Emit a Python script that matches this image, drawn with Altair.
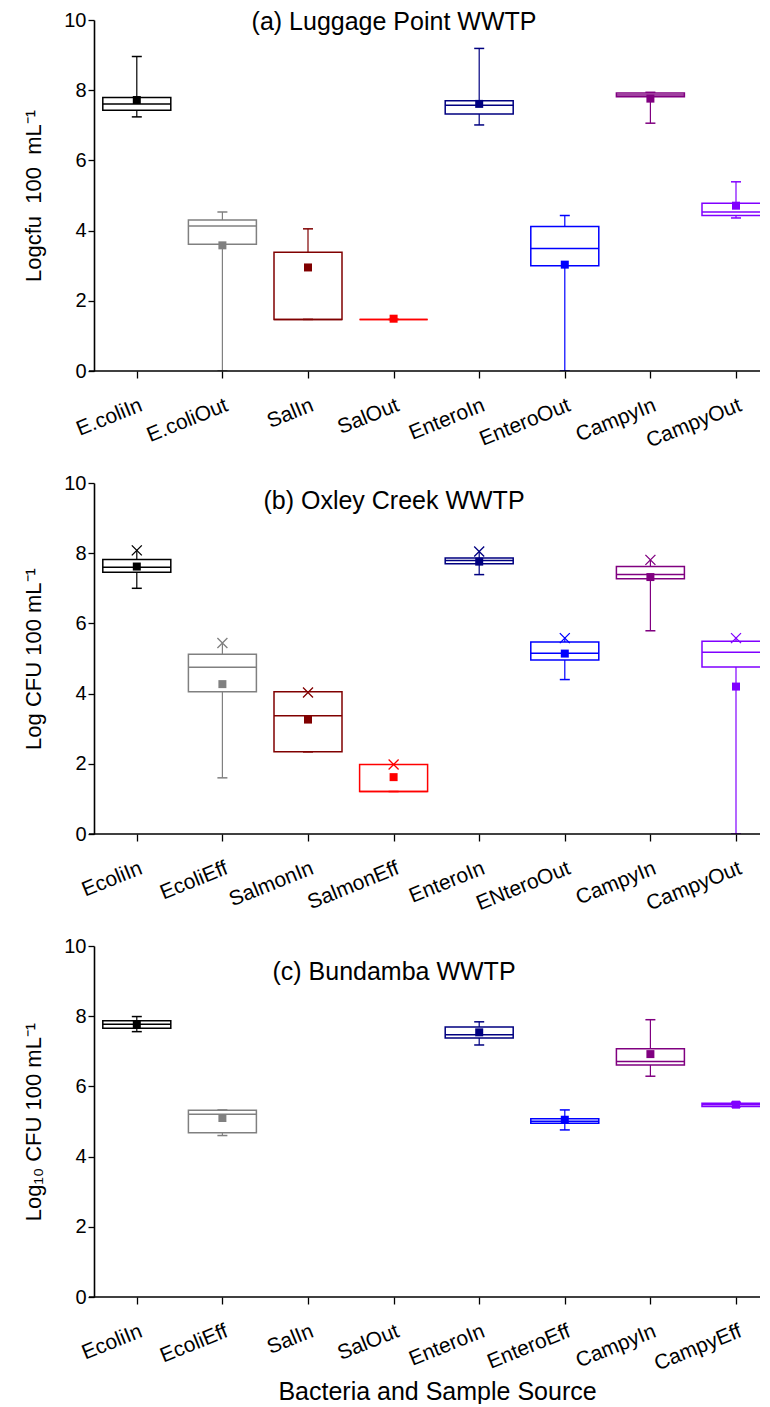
import json
import altair as alt
import pandas as pd

FONT = "Liberation Sans"

colors = ["#000000", "#808080", "#800000", "#FF0000", "#000080", "#0000FF", "#800080", "#8000FF"]

# Panel (a) Luggage Point WWTP
cats_a = ["E.coliIn", "E.coliOut", "SalIn", "SalOut", "EnteroIn", "EnteroOut", "CampyIn", "CampyOut"]
lo_a = [7.24, 0.0, 1.47, 1.47, 7.01, 0.0, 7.06, 4.36]
q1_a = [7.43, 3.61, 1.47, 1.47, 7.32, 3.00, 7.81, 4.43]
med_a = [7.61, 4.13, 1.47, 1.47, 7.57, 3.49, 7.86, 4.53]
q3_a = [7.79, 4.30, 3.38, 1.47, 7.70, 4.12, 7.92, 4.78]
hi_a = [8.96, 4.53, 4.05, 1.47, 9.19, 4.43, 7.94, 5.39]
mean_a = [7.72, 3.58, 2.95, 1.49, 7.61, 3.03, 7.76, 4.71]

# Panel (b) Oxley Creek WWTP
cats_b = ["EcoliIn", "EcoliEff", "SalmonIn", "SalmonEff", "EnteroIn", "ENteroOut", "CampyIn", "CampyOut"]
lo_b = [7.00, 1.60, 2.34, 1.21, 7.39, 4.40, 5.79, 0.0]
q1_b = [7.46, 4.05, 2.34, 1.21, 7.70, 4.96, 7.27, 4.76]
med_b = [7.60, 4.75, 3.37, 1.21, 7.79, 5.15, 7.39, 5.18]
q3_b = [7.82, 5.12, 4.05, 1.98, 7.86, 5.47, 7.62, 5.49]
hi_b = [8.08, 5.44, 4.05, 1.98, 8.05, 5.58, 7.81, 5.58]
mean_b = [7.62, 4.27, 3.26, 1.62, 7.76, 5.14, 7.32, 4.20]
max_b = [8.08, 5.44, 4.03, 1.98, 8.05, 5.58, 7.81, 5.58]

# Panel (c) Bundamba WWTP
cats_c = ["EcoliIn", "EcoliEff", "SalIn", "SalOut", "EnteroIn", "EnteroEff", "CampyIn", "CampyEff"]
lo_c = [7.56, 4.60, None, None, 7.18, 4.76, 6.29, 5.42]
q1_c = [7.66, 4.68, None, None, 7.38, 4.95, 6.61, 5.43]
med_c = [7.77, 5.21, None, None, 7.47, 5.01, 6.71, 5.48]
q3_c = [7.87, 5.32, None, None, 7.69, 5.08, 7.07, 5.52]
hi_c = [7.99, 5.33, None, None, 7.84, 5.33, 7.90, 5.55]
mean_c = [7.76, 5.10, None, None, 7.54, 5.05, 6.92, 5.48]

titles = ["(a) Luggage Point WWTP", "(b) Oxley Creek WWTP", "(c) Bundamba WWTP"]
ytitles = ["Logcfu\u00a0 100\u00a0 mL\u207b\u00b9", "Log CFU 100 mL\u207b\u00b9", "Log\u2081\u2080 CFU 100 mL\u207b\u00b9"]
xtitle = "Bacteria and Sample Source"
ytick_values = [i * 0.5 for i in range(21)]
xtick_values = list(range(1, 9))

STEP = 85.6          # px per category
W = 666              # visible plot width (the last box runs off the page edge, as in the figure)
H = 351
XMAX = 0.5 + W / STEP
BOX_HALF = 34 / STEP
CAP_HALF = 5 / STEP


def panel(cats, lo, q1, med, q3, hi, mean, mx, title, ytitle, top_caps, xt, title_dy):
    df = pd.DataFrame({"idx": xtick_values, "cat": cats, "lo": lo, "q1": q1, "med": med,
                       "q3": q3, "hi": hi, "mean": mean, "color": colors})
    if mx is not None:
        df["mx"] = mx
    label_expr = json.dumps(cats) + "[datum.value - 1]"
    axis_kw = dict(values=xtick_values, labelExpr=label_expr, labelAngle=338,
                   labelAlign="right", labelBaseline="top", labelPadding=16, tickSize=7,
                   labelFontSize=21, labelOverlap=False, labelBound=False, domain=False)
    if xt:
        axis_kw.update(title=xt, titleFontSize=25, titleX=343, titleY=102,
                       titleAlign="center", titleBaseline="alphabetic")
    else:
        axis_kw.update(title=None)
    xscale = alt.Scale(domain=[0.5, XMAX], nice=False, zero=False)
    xenc = alt.X("idx:Q", scale=xscale, axis=alt.Axis(**axis_kw))
    yscale = alt.Scale(domain=[0, 10], nice=False, zero=True)
    yaxis = alt.Axis(values=ytick_values,
                     labelExpr="datum.value % 2 === 0 ? datum.label : ''",
                     tickSize={"condition": {"test": "datum.value % 2 === 0", "value": 6}, "value": 3},
                     title=ytitle, titleX=-54, titleY=H / 2, titleAngle=270,
                     titleAlign="center", titleBaseline="alphabetic")
    col = alt.Color("color:N", scale=None)
    base = alt.Chart(df).transform_calculate(
        bl=f"datum.idx - {BOX_HALF}", br=f"datum.idx + {BOX_HALF}",
        cl=f"datum.idx - {CAP_HALF}", cr=f"datum.idx + {CAP_HALF}")
    whisk = base.mark_rule(strokeWidth=1.2, clip=True).encode(
        x=xenc, y=alt.Y("lo:Q", scale=yscale, axis=yaxis), y2="hi:Q", color=col)
    box = base.mark_rect(fill="white", strokeWidth=1.5, clip=True).encode(
        x=alt.X("bl:Q", scale=xscale), x2="br:Q", y="q1:Q", y2="q3:Q",
        stroke=alt.Stroke("color:N", scale=None))
    median = base.mark_rule(strokeWidth=1.5, clip=True).encode(
        x=alt.X("bl:Q", scale=xscale), x2="br:Q", y="med:Q", color=col)
    lowcap = base.mark_rule(strokeWidth=1.5, clip=True).encode(
        x=alt.X("cl:Q", scale=xscale), x2="cr:Q", y="lo:Q", color=col)
    layers = [whisk, box, median, lowcap]
    if top_caps:
        layers.append(base.mark_rule(strokeWidth=1.5, clip=True).encode(
            x=alt.X("cl:Q", scale=xscale), x2="cr:Q", y="hi:Q", color=col))
    layers.append(base.mark_square(size=64, filled=True, opacity=1, clip=True).encode(
        x=xenc, y="mean:Q", color=col))
    if mx is not None:
        layers.append(base.mark_point(shape="M-1,-1L1,1M-1,1L1,-1", size=100, filled=False,
                                      strokeWidth=1.3, opacity=1, clip=True).encode(
            x=xenc, y="mx:Q", color=col))
    tdf = pd.DataFrame({"t": [title]})
    ttl = alt.Chart(tdf).mark_text(fontSize=25, font=FONT, color="black", align="center",
                                   baseline="middle").encode(
        x=alt.value(300), y=alt.value(title_dy), text="t:N")
    xline = alt.Chart(tdf).mark_rule(color="black", strokeWidth=1.6).encode(
        x=alt.value(-5), x2=alt.value(W), y=alt.value(H))
    layers += [xline, ttl]
    return alt.layer(*layers).properties(width=W, height=H)


pa = panel(cats_a, lo_a, q1_a, med_a, q3_a, hi_a, mean_a, None, titles[0], ytitles[0], True, None, 2)
pb = panel(cats_b, lo_b, q1_b, med_b, q3_b, hi_b, mean_b, max_b, titles[1], ytitles[1], False, None, 18)
pc = panel(cats_c, lo_c, q1_c, med_c, q3_c, hi_c, mean_c, None, titles[2], ytitles[2], True, xtitle, 26)

chart = alt.vconcat(pa, pb, pc, spacing=112, bounds="flush").properties(
    padding={"left": 14, "top": 2, "right": 0, "bottom": 0},
    background="white"
).configure_view(stroke=None).configure_axis(
    grid=False, domainColor="black", domainWidth=1.6, tickColor="black", tickWidth=1.3,
    labelFont=FONT, labelColor="black", labelFontSize=20, titleFont=FONT, titleColor="black",
    titleFontSize=22, titleFontWeight="normal"
)

chart.save("out.html", embed_options={"renderer": "svg", "actions": False})
